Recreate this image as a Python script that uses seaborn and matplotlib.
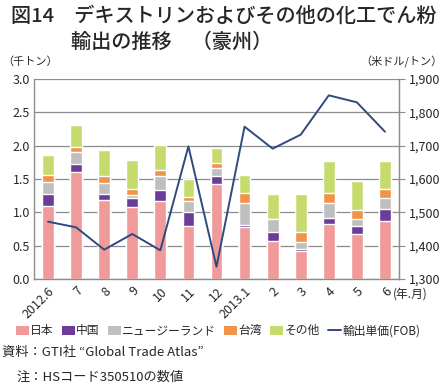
import numpy as np
import pandas as pd
import matplotlib
matplotlib.use("Agg")
import matplotlib.pyplot as plt
import matplotlib.ticker as mticker
from matplotlib.patches import Patch
from matplotlib.lines import Line2D
import seaborn as sns

# data (thousand tons, USD/ton)
months = ["2012.6", "7", "8", "9", "10", "11", "12", "2013.1", "2", "3", "4", "5", "6"]
japan = [1.09, 1.60, 1.185, 1.08, 1.17, 0.80, 1.43, 0.775, 0.575, 0.425, 0.825, 0.675, 0.87]
china = [0.19, 0.13, 0.09, 0.13, 0.165, 0.21, 0.115, 0.04, 0.135, 0.03, 0.09, 0.12, 0.18]
nz = [0.18, 0.18, 0.165, 0.055, 0.21, 0.16, 0.12, 0.32, 0.19, 0.105, 0.22, 0.105, 0.17]
taiwan = [0.10, 0.07, 0.105, 0.09, 0.095, 0.065, 0.08, 0.155, 0.0, 0.15, 0.155, 0.14, 0.135]
other = [0.30, 0.335, 0.395, 0.43, 0.365, 0.27, 0.215, 0.265, 0.38, 0.56, 0.475, 0.43, 0.41]
price = [1472, 1455, 1388, 1435, 1386, 1698, 1337, 1757, 1691, 1733, 1851, 1830, 1742]

names = ["日本", "中国", "ニュージーランド", "台湾", "その他"]
colors = ["#F09A9A", "#6B3D98", "#BFBFBF", "#F0944C", "#C6DB6E"]
line_color = "#2F4A7E"

sns.set_style("white")
plt.rcParams["font.family"] = ["Noto Sans CJK JP", "DejaVu Sans"]

df = pd.DataFrame({"month": months, "日本": japan, "中国": china,
                   "ニュージーランド": nz, "台湾": taiwan, "その他": other})
cum = df[names].cumsum(axis=1)

fig = plt.figure(figsize=(4.45, 3.85), dpi=100)
ax = fig.add_axes([0.0764, 0.2753, 0.8202, 0.5195])

# stacked bars: draw cumulative totals from the top layer down
for name, c in zip(names[::-1], colors[::-1]):
    sns.barplot(x=df["month"], y=cum[name], color=c, width=0.42,
                saturation=1, ax=ax, order=months)

ax.set_ylim(0, 3.0)
ax.set_xlim(-0.5, len(months) - 0.5)
ax.yaxis.set_major_locator(mticker.MultipleLocator(0.5))
ax.yaxis.set_major_formatter(mticker.FormatStrFormatter("%.1f"))
ax.grid(axis="y", color="#8C8C8C", linewidth=0.9)
ax.set_axisbelow(True)
ax.set_xlabel("")
ax.set_ylabel("")
ax.set_xticks(range(len(months)))
ax.set_xticklabels(months, rotation=45, ha="right", rotation_mode="anchor", fontsize=9)
ax.xaxis.set_minor_locator(mticker.FixedLocator(np.arange(-0.5, len(months), 1)))
ax.tick_params(axis="x", which="major", length=0, pad=4)
ax.tick_params(axis="x", which="minor", length=4, color="#8C8C8C", direction="out")
ax.tick_params(axis="y", length=0, labelsize=9, pad=3)
for s in ["left", "bottom", "right"]:
    ax.spines[s].set_color("#8C8C8C")
    ax.spines[s].set_linewidth(1.0)
ax.spines["top"].set_visible(False)

ax2 = ax.twinx()
sns.lineplot(x=np.arange(len(months)), y=price, color=line_color, linewidth=1.4, ax=ax2)
ax2.set_ylim(1300, 1900)
ax2.yaxis.set_major_locator(mticker.MultipleLocator(100))
ax2.yaxis.set_major_formatter(mticker.StrMethodFormatter("{x:,.0f}"))
ax2.tick_params(axis="y", length=4, color="#8C8C8C", labelsize=9, pad=3)
ax2.set_ylabel("")
for s in ["left", "top", "bottom"]:
    ax2.spines[s].set_visible(False)
ax2.spines["right"].set_color("#8C8C8C")

# titles and unit labels
fig.text(0.025, 0.958, "図14　デキストリンおよびその他の化工でん粉", fontsize=14.5,
         fontweight="medium", va="center", ha="left")
fig.text(0.160, 0.890, "輸出の推移　（豪州）", fontsize=14.5,
         fontweight="medium", va="center", ha="left")
fig.text(0.005, 0.84, "（千トン）", fontsize=8, va="center", ha="left")
fig.text(0.995, 0.84, "（米ドル/トン）", fontsize=8, va="center", ha="right")
fig.text(0.883, 0.236, "(年.月)", fontsize=8.5, va="center", ha="left")

handles = [Patch(facecolor=c, edgecolor="none") for c in colors]
handles.append(Line2D([0], [0], color=line_color, linewidth=1.4))
labels = names + ["輸出単価(FOB)"]
fig.legend(handles, labels, loc="center", bbox_to_anchor=(0.49, 0.141), ncol=6,
           frameon=False, fontsize=8.5, handlelength=1.1, handleheight=0.8,
           handletextpad=0.1, columnspacing=0.7)

fig.text(0.005, 0.086, "資料：GTI社 “Global Trade Atlas”", fontsize=9.5, va="center", ha="left")
fig.text(0.036, 0.021, "注：HSコード350510の数値", fontsize=9.5, va="center", ha="left")

fig.savefig("out.png", dpi=100)
